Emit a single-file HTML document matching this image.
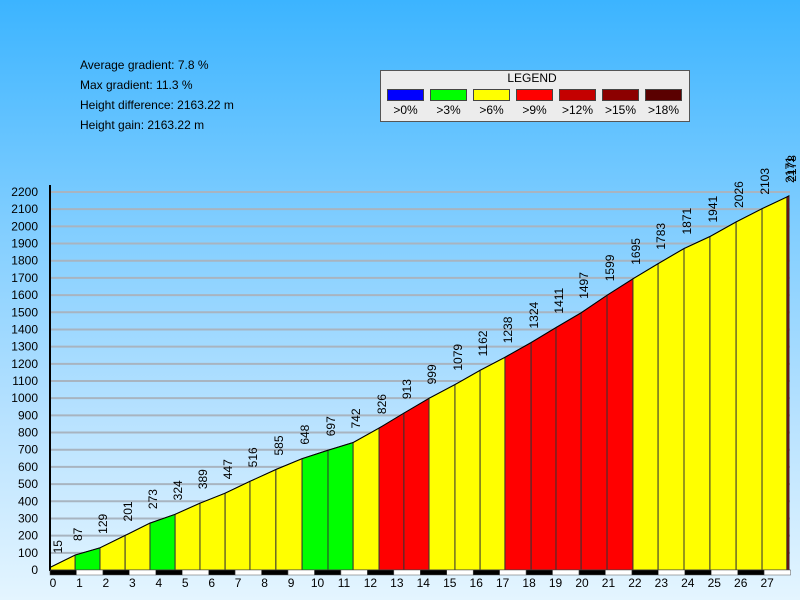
<!DOCTYPE html>
<html><head><meta charset="utf-8"><style>
html,body{margin:0;padding:0}
body{width:800px;height:600px;overflow:hidden;background:linear-gradient(#3cb4ff 0%,#7cccff 35%,#b8e2ff 70%,#e4f5ff 100%);font-family:"Liberation Sans",sans-serif;position:relative}
.st{position:absolute;left:80px;font-size:12px;color:#000}
</style></head><body>
<div class="st" style="top:58px">Average gradient: 7.8 %</div>
<div class="st" style="top:78px">Max gradient: 11.3 %</div>
<div class="st" style="top:98px">Height difference: 2163.22 m</div>
<div class="st" style="top:118px">Height gain: 2163.22 m</div>
<svg id="c" width="800" height="600" style="position:absolute;left:0;top:0"></svg>
<script>
const distances=[0,0.95,1.89,2.84,3.78,4.73,5.67,6.62,7.56,8.54,9.53,10.51,11.46,12.44,13.38,14.33,15.31,16.26,17.20,18.19,19.13,20.08,21.06,22.04,22.99,23.97,24.95,25.94,26.92,27.86,27.94];
const elevations=[15,87,129,201,273,324,389,447,516,585,648,697,742,826,913,999,1079,1162,1238,1324,1411,1497,1599,1695,1783,1871,1941,2026,2103,2171,2178];
const segClass=[2,1,2,2,1,2,2,2,2,2,1,1,2,3,3,2,2,2,3,3,3,3,3,2,2,2,2,2,2,5];
const legendLabels=[">0%",">3%",">6%",">9%",">12%",">15%",">18%"];
const legendColors=["#0000ff","#00ff00","#ffff00","#ff0000","#c40000","#8c0000","#5a0000"];
const yTicks=[0,100,200,300,400,500,600,700,800,900,1000,1100,1200,1300,1400,1500,1600,1700,1800,1900,2000,2100,2200];
const xTicks=[0,1,2,3,4,5,6,7,8,9,10,11,12,13,14,15,16,17,18,19,20,21,22,23,24,25,26,27];
const svg=document.getElementById('c');const NS='http://www.w3.org/2000/svg';
const X=d=>50+d*26.45, Y=v=>570-v*378/2200;
function mk(t,a,p){const e=document.createElementNS(NS,t);for(const k in a)e.setAttribute(k,a[k]);(p||svg).appendChild(e);return e;}
// grid + y labels
yTicks.forEach(v=>{
 const g=mk('line',{x1:50,x2:790,y1:Y(v),y2:Y(v),stroke:'#a8b4c0','stroke-width':2});
 
 
 const t=mk('text',{x:38,y:Y(v)+4,'text-anchor':'end','font-size':12});
 t.textContent=v;
 
 
});
// segments
for(let i=0;i<distances.length-1;i++){
 const x1=X(distances[i]),x2=X(distances[i+1]);
 const p=mk('polygon',{points:`${x1},570 ${x1},${Y(elevations[i])} ${x2},${Y(elevations[i+1])} ${x2},570`,fill:legendColors[segClass[i]],stroke:'#333','stroke-width':1});
 
 
}
mk('polyline',{points:distances.map((d,i)=>X(d)+','+Y(elevations[i])).join(' '),fill:'none',stroke:'#000','stroke-width':1});
// value labels
elevations.forEach((v,i)=>{
 const x=Math.max(X(distances[i])+3,58)+4,y=Y(v)-14;
 const t=mk('text',{x:x,y:y,'font-size':12,transform:`rotate(-90 ${x} ${y})`});
 t.textContent=v;
 
 
});
// axes
const ax=mk('line',{x1:50,x2:50,y1:185,y2:571,stroke:'#000','stroke-width':2});


xTicks.forEach((k,i)=>{
 const r=mk('rect',{x:X(k),y:570,width:26.45,height:5,fill:i%2?'#fff':'#000',stroke:'#555','stroke-width':0.5});
 
 
 const t=mk('text',{x:X(k)+3,y:587,'text-anchor':'middle','font-size':12});
 t.textContent=k;
 
 
});
// legend
const lg=mk('g',{});


mk('rect',{x:380.5,y:70.5,width:309,height:51,fill:'#ececec',stroke:'#555','stroke-width':1},lg);
const lt=mk('text',{x:532,y:82,'text-anchor':'middle','font-size':12},lg);lt.textContent='LEGEND';
legendLabels.forEach((l,i)=>{
 const x=387.5+i*43;
 const r=mk('rect',{x:x,y:89.5,width:36,height:11,fill:legendColors[i],stroke:'#444'},lg);
 
 
 const t=mk('text',{x:x+18,y:114,'text-anchor':'middle','font-size':12},lg);
 t.textContent=l;
 
 
});
</script>
</body></html>
